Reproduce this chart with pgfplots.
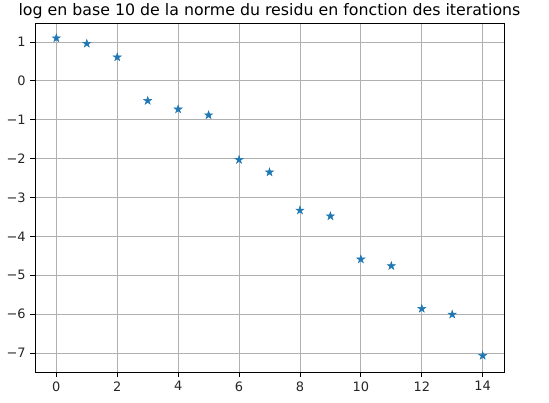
\documentclass[border=0pt]{standalone}
\usepackage{fontspec}
\setmainfont{DejaVu Sans}
\usepackage{pgfplots}
\pgfplotsset{compat=1.18}
\definecolor{mplblue}{HTML}{1F77B4}
\definecolor{mplgrid}{HTML}{B0B0B0}
\pgfdeclareplotmark{fstar}{%
  \pgfpathmoveto{\pgfpoint{0pt}{\pgfplotmarksize}}%
  \pgfpathlineto{\pgfpoint{-0.2245\pgfplotmarksize}{0.3090\pgfplotmarksize}}%
  \pgfpathlineto{\pgfpoint{-0.9511\pgfplotmarksize}{0.3090\pgfplotmarksize}}%
  \pgfpathlineto{\pgfpoint{-0.3633\pgfplotmarksize}{-0.1180\pgfplotmarksize}}%
  \pgfpathlineto{\pgfpoint{-0.5878\pgfplotmarksize}{-0.8090\pgfplotmarksize}}%
  \pgfpathlineto{\pgfpoint{0pt}{-0.382\pgfplotmarksize}}%
  \pgfpathlineto{\pgfpoint{0.5878\pgfplotmarksize}{-0.8090\pgfplotmarksize}}%
  \pgfpathlineto{\pgfpoint{0.3633\pgfplotmarksize}{-0.1180\pgfplotmarksize}}%
  \pgfpathlineto{\pgfpoint{0.9511\pgfplotmarksize}{0.3090\pgfplotmarksize}}%
  \pgfpathlineto{\pgfpoint{0.2245\pgfplotmarksize}{0.3090\pgfplotmarksize}}%
  \pgfpathclose
  \pgfusepathqfillstroke
}
\begin{document}
\begin{tikzpicture}
\useasboundingbox (-35bp,-31bp) rectangle (514bp,372bp);
\begin{axis}[
  at={(0,0)}, anchor=south west,
  scale only axis,
  width=469bp, height=349bp,
  xmin=-0.7, xmax=14.7,
  ymin=-7.49, ymax=1.49,
  xtick={0,2,...,14},
  ytick={-7,-6,...,1},
  yticklabels={−7,−6,−5,−4,−3,−2,−1,0,1},
  grid=major,
  major grid style={color=mplgrid, line width=0.8bp},
  axis line style={line width=0.8bp, black},
  tick style={line width=0.8bp, black},
  tick align=outside,
  major tick length=4.6bp,
  xtick pos=bottom, ytick pos=left,
  /pgf/number format/assume math mode=true,
  tick label style={font=\fontsize{13}{15}\selectfont, color=black!85},
  xticklabel style={inner sep=0pt, anchor=north, yshift=-4.6bp},
  yticklabel style={inner sep=0pt, anchor=east, xshift=-4.6bp},
  title={log en base 10 de la norme du residu en fonction des iterations},
  title style={font=\fontsize{15.85}{18}\selectfont, at={(0.5,1)}, anchor=south, inner sep=0pt, yshift=-2bp},
]
\addplot[only marks, mark=fstar, mark size=4.2bp, color=mplblue, fill=mplblue, line width=0.5bp]
coordinates {
(0,1.10) (1,0.96) (2,0.61) (3,-0.51) (4,-0.73) (5,-0.88)
(6,-2.03) (7,-2.35) (8,-3.33) (9,-3.48) (10,-4.59) (11,-4.76)
(12,-5.86) (13,-6.01) (14,-7.07)
};
\end{axis}
\end{tikzpicture}
\end{document}
